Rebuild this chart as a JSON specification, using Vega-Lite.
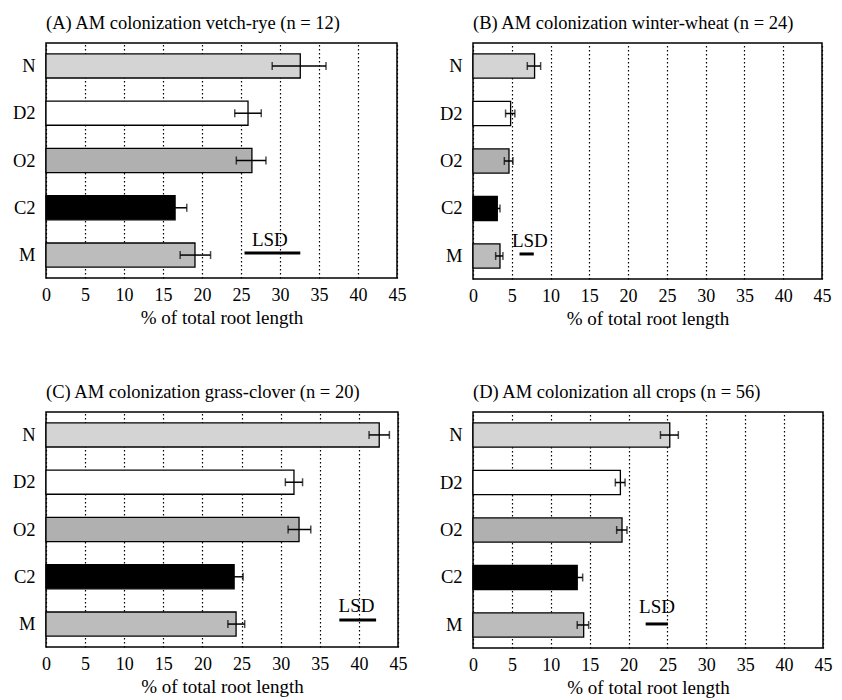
{
  "$schema": "https://vega.github.io/schema/vega-lite/v6.json",
  "padding": {"left": 11, "top": 12, "right": 5, "bottom": 5},
  "background": "white",
  "datasets": {
    "A": [
      {"treatment": "N", "value": 32.6, "lo": 29.0, "hi": 35.9},
      {"treatment": "D2", "value": 25.9, "lo": 24.2, "hi": 27.6},
      {"treatment": "O2", "value": 26.4, "lo": 24.4, "hi": 28.2},
      {"treatment": "C2", "value": 16.55, "lo": 15.05, "hi": 18.05},
      {"treatment": "M", "value": 19.1, "lo": 17.2, "hi": 21.1}
    ],
    "A_lsd": [{"treatment": "M", "lo": 25.45, "hi": 32.6, "mid": 28.7, "label": "LSD"}],
    "B": [
      {"treatment": "N", "value": 7.94, "lo": 7.0, "hi": 8.72},
      {"treatment": "D2", "value": 4.85, "lo": 4.2, "hi": 5.4},
      {"treatment": "O2", "value": 4.64, "lo": 4.04, "hi": 5.15},
      {"treatment": "C2", "value": 3.13, "lo": 2.8, "hi": 3.48},
      {"treatment": "M", "value": 3.48, "lo": 2.92, "hi": 3.86}
    ],
    "B_lsd": [{"treatment": "M", "lo": 6.0, "hi": 7.84, "mid": 7.33, "label": "LSD"}],
    "C": [
      {"treatment": "N", "value": 42.6, "lo": 41.3, "hi": 43.9},
      {"treatment": "D2", "value": 31.7, "lo": 30.6, "hi": 32.8},
      {"treatment": "O2", "value": 32.35, "lo": 30.95, "hi": 33.85},
      {"treatment": "C2", "value": 24.05, "lo": 22.9, "hi": 25.2},
      {"treatment": "M", "value": 24.3, "lo": 23.25, "hi": 25.4}
    ],
    "C_lsd": [{"treatment": "M", "lo": 37.5, "hi": 42.2, "mid": 39.7, "label": "LSD"}],
    "D": [
      {"treatment": "N", "value": 25.3, "lo": 24.1, "hi": 26.4},
      {"treatment": "D2", "value": 18.95, "lo": 18.3, "hi": 19.55},
      {"treatment": "O2", "value": 19.16, "lo": 18.47, "hi": 19.8},
      {"treatment": "C2", "value": 13.4, "lo": 12.7, "hi": 14.1},
      {"treatment": "M", "value": 14.23, "lo": 13.4, "hi": 14.87}
    ],
    "D_lsd": [{"treatment": "M", "lo": 22.2, "hi": 25.07, "mid": 23.66, "label": "LSD"}]
  },
  "columns": 2,
  "spacing": {"column": 75, "row": 133},
  "bounds": "flush",
  "concat": [
    {
      "title": {"text": "(A) AM colonization vetch-rye (n = 12)"},
      "width": 351, "height": 235,
      "layer": [
        {"data": {"name": "A"}, "mark": {"type": "bar", "stroke": "black", "strokeWidth": 1.3},
         "encoding": {
           "y": {"field": "treatment", "type": "nominal", "sort": ["N", "D2", "O2", "C2", "M"], "scale": {"domain": ["N", "D2", "O2", "C2", "M"], "paddingInner": 0.49, "paddingOuter": 0.23}, "axis": {"title": null}},
           "x": {"field": "value", "type": "quantitative", "scale": {"domain": [0, 45], "nice": false}, "axis": {"title": "% of total root length"}},
           "fill": {"field": "treatment", "type": "nominal", "scale": {"domain": ["N", "D2", "O2", "C2", "M"], "range": ["#d4d4d4", "#ffffff", "#b0b0b0", "#000000", "#bcbcbc"]}, "legend": null}}},
        {"data": {"name": "A"}, "mark": {"type": "rule", "stroke": "black", "strokeWidth": 1.5},
         "encoding": {"y": {"field": "treatment", "type": "nominal", "sort": ["N", "D2", "O2", "C2", "M"]}, "x": {"field": "lo", "type": "quantitative"}, "x2": {"field": "hi"}}},
        {"data": {"name": "A"}, "mark": {"type": "tick", "color": "black", "thickness": 1.5, "size": 8},
         "encoding": {"y": {"field": "treatment", "type": "nominal", "sort": ["N", "D2", "O2", "C2", "M"]}, "x": {"field": "lo", "type": "quantitative"}}},
        {"data": {"name": "A"}, "mark": {"type": "tick", "color": "black", "thickness": 1.5, "size": 8},
         "encoding": {"y": {"field": "treatment", "type": "nominal", "sort": ["N", "D2", "O2", "C2", "M"]}, "x": {"field": "hi", "type": "quantitative"}}},
        {"data": {"name": "A_lsd"}, "mark": {"type": "rule", "stroke": "black", "strokeWidth": 3, "yOffset": -2},
         "encoding": {"y": {"field": "treatment", "type": "nominal", "sort": ["N", "D2", "O2", "C2", "M"]}, "x": {"field": "lo", "type": "quantitative"}, "x2": {"field": "hi"}}},
        {"data": {"name": "A_lsd"}, "mark": {"type": "text", "fontSize": 19, "baseline": "alphabetic", "dy": -9, "color": "black"},
         "encoding": {"y": {"field": "treatment", "type": "nominal", "sort": ["N", "D2", "O2", "C2", "M"]}, "x": {"field": "mid", "type": "quantitative"}, "text": {"field": "label"}}}
      ]
    },
    {
      "title": {"text": "(B) AM colonization winter-wheat (n = 24)"},
      "width": 349, "height": 236,
      "layer": [
        {"data": {"name": "B"}, "mark": {"type": "bar", "stroke": "black", "strokeWidth": 1.3},
         "encoding": {
           "y": {"field": "treatment", "type": "nominal", "sort": ["N", "D2", "O2", "C2", "M"], "scale": {"domain": ["N", "D2", "O2", "C2", "M"], "paddingInner": 0.49, "paddingOuter": 0.23}, "axis": {"title": null}},
           "x": {"field": "value", "type": "quantitative", "scale": {"domain": [0, 45], "nice": false}, "axis": {"title": "% of total root length"}},
           "fill": {"field": "treatment", "type": "nominal", "scale": {"domain": ["N", "D2", "O2", "C2", "M"], "range": ["#d4d4d4", "#ffffff", "#b0b0b0", "#000000", "#bcbcbc"]}, "legend": null}}},
        {"data": {"name": "B"}, "mark": {"type": "rule", "stroke": "black", "strokeWidth": 1.5},
         "encoding": {"y": {"field": "treatment", "type": "nominal", "sort": ["N", "D2", "O2", "C2", "M"]}, "x": {"field": "lo", "type": "quantitative"}, "x2": {"field": "hi"}}},
        {"data": {"name": "B"}, "mark": {"type": "tick", "color": "black", "thickness": 1.5, "size": 8},
         "encoding": {"y": {"field": "treatment", "type": "nominal", "sort": ["N", "D2", "O2", "C2", "M"]}, "x": {"field": "lo", "type": "quantitative"}}},
        {"data": {"name": "B"}, "mark": {"type": "tick", "color": "black", "thickness": 1.5, "size": 8},
         "encoding": {"y": {"field": "treatment", "type": "nominal", "sort": ["N", "D2", "O2", "C2", "M"]}, "x": {"field": "hi", "type": "quantitative"}}},
        {"data": {"name": "B_lsd"}, "mark": {"type": "rule", "stroke": "black", "strokeWidth": 3, "yOffset": -2},
         "encoding": {"y": {"field": "treatment", "type": "nominal", "sort": ["N", "D2", "O2", "C2", "M"]}, "x": {"field": "lo", "type": "quantitative"}, "x2": {"field": "hi"}}},
        {"data": {"name": "B_lsd"}, "mark": {"type": "text", "fontSize": 19, "baseline": "alphabetic", "dy": -9, "color": "black"},
         "encoding": {"y": {"field": "treatment", "type": "nominal", "sort": ["N", "D2", "O2", "C2", "M"]}, "x": {"field": "mid", "type": "quantitative"}, "text": {"field": "label"}}}
      ]
    },
    {
      "title": {"text": "(C) AM colonization grass-clover (n = 20)"},
      "width": 352, "height": 235,
      "layer": [
        {"data": {"name": "C"}, "mark": {"type": "bar", "stroke": "black", "strokeWidth": 1.3},
         "encoding": {
           "y": {"field": "treatment", "type": "nominal", "sort": ["N", "D2", "O2", "C2", "M"], "scale": {"domain": ["N", "D2", "O2", "C2", "M"], "paddingInner": 0.49, "paddingOuter": 0.23}, "axis": {"title": null}},
           "x": {"field": "value", "type": "quantitative", "scale": {"domain": [0, 45], "nice": false}, "axis": {"title": "% of total root length"}},
           "fill": {"field": "treatment", "type": "nominal", "scale": {"domain": ["N", "D2", "O2", "C2", "M"], "range": ["#d4d4d4", "#ffffff", "#b0b0b0", "#000000", "#bcbcbc"]}, "legend": null}}},
        {"data": {"name": "C"}, "mark": {"type": "rule", "stroke": "black", "strokeWidth": 1.5},
         "encoding": {"y": {"field": "treatment", "type": "nominal", "sort": ["N", "D2", "O2", "C2", "M"]}, "x": {"field": "lo", "type": "quantitative"}, "x2": {"field": "hi"}}},
        {"data": {"name": "C"}, "mark": {"type": "tick", "color": "black", "thickness": 1.5, "size": 8},
         "encoding": {"y": {"field": "treatment", "type": "nominal", "sort": ["N", "D2", "O2", "C2", "M"]}, "x": {"field": "lo", "type": "quantitative"}}},
        {"data": {"name": "C"}, "mark": {"type": "tick", "color": "black", "thickness": 1.5, "size": 8},
         "encoding": {"y": {"field": "treatment", "type": "nominal", "sort": ["N", "D2", "O2", "C2", "M"]}, "x": {"field": "hi", "type": "quantitative"}}},
        {"data": {"name": "C_lsd"}, "mark": {"type": "rule", "stroke": "black", "strokeWidth": 3, "yOffset": -4},
         "encoding": {"y": {"field": "treatment", "type": "nominal", "sort": ["N", "D2", "O2", "C2", "M"]}, "x": {"field": "lo", "type": "quantitative"}, "x2": {"field": "hi"}}},
        {"data": {"name": "C_lsd"}, "mark": {"type": "text", "fontSize": 19, "baseline": "alphabetic", "dy": -12, "color": "black"},
         "encoding": {"y": {"field": "treatment", "type": "nominal", "sort": ["N", "D2", "O2", "C2", "M"]}, "x": {"field": "mid", "type": "quantitative"}, "text": {"field": "label"}}}
      ]
    },
    {
      "title": {"text": "(D) AM colonization all crops (n = 56)"},
      "width": 350, "height": 236,
      "layer": [
        {"data": {"name": "D"}, "mark": {"type": "bar", "stroke": "black", "strokeWidth": 1.3},
         "encoding": {
           "y": {"field": "treatment", "type": "nominal", "sort": ["N", "D2", "O2", "C2", "M"], "scale": {"domain": ["N", "D2", "O2", "C2", "M"], "paddingInner": 0.49, "paddingOuter": 0.23}, "axis": {"title": null}},
           "x": {"field": "value", "type": "quantitative", "scale": {"domain": [0, 45], "nice": false}, "axis": {"title": "% of total root length"}},
           "fill": {"field": "treatment", "type": "nominal", "scale": {"domain": ["N", "D2", "O2", "C2", "M"], "range": ["#d4d4d4", "#ffffff", "#b0b0b0", "#000000", "#bcbcbc"]}, "legend": null}}},
        {"data": {"name": "D"}, "mark": {"type": "rule", "stroke": "black", "strokeWidth": 1.5},
         "encoding": {"y": {"field": "treatment", "type": "nominal", "sort": ["N", "D2", "O2", "C2", "M"]}, "x": {"field": "lo", "type": "quantitative"}, "x2": {"field": "hi"}}},
        {"data": {"name": "D"}, "mark": {"type": "tick", "color": "black", "thickness": 1.5, "size": 8},
         "encoding": {"y": {"field": "treatment", "type": "nominal", "sort": ["N", "D2", "O2", "C2", "M"]}, "x": {"field": "lo", "type": "quantitative"}}},
        {"data": {"name": "D"}, "mark": {"type": "tick", "color": "black", "thickness": 1.5, "size": 8},
         "encoding": {"y": {"field": "treatment", "type": "nominal", "sort": ["N", "D2", "O2", "C2", "M"]}, "x": {"field": "hi", "type": "quantitative"}}},
        {"data": {"name": "D_lsd"}, "mark": {"type": "rule", "stroke": "black", "strokeWidth": 3, "yOffset": -1},
         "encoding": {"y": {"field": "treatment", "type": "nominal", "sort": ["N", "D2", "O2", "C2", "M"]}, "x": {"field": "lo", "type": "quantitative"}, "x2": {"field": "hi"}}},
        {"data": {"name": "D_lsd"}, "mark": {"type": "text", "fontSize": 19, "baseline": "alphabetic", "dy": -12, "color": "black"},
         "encoding": {"y": {"field": "treatment", "type": "nominal", "sort": ["N", "D2", "O2", "C2", "M"]}, "x": {"field": "mid", "type": "quantitative"}, "text": {"field": "label"}}}
      ]
    }
  ],
  "config": {
    "font": "Liberation Serif, Times New Roman, DejaVu Serif, serif",
    "view": {"stroke": "black", "strokeWidth": 1.5},
    "text": {"font": "Liberation Serif, Times New Roman, DejaVu Serif, serif"},
    "axis": {"labelFont": "Liberation Serif, Times New Roman, DejaVu Serif, serif", "labelFontSize": 18, "labelColor": "black", "titleFont": "Liberation Serif, Times New Roman, DejaVu Serif, serif", "titleFontSize": 19, "titleFontWeight": "normal", "titleColor": "black", "domain": false, "ticks": false},
    "axisX": {"grid": true, "gridColor": "black", "gridDash": [1.5, 2.5], "gridWidth": 1.2, "gridOpacity": 1, "labelPadding": 8, "titlePadding": 4, "values": [0, 5, 10, 15, 20, 25, 30, 35, 40, 45], "labelFlush": false},
    "axisY": {"grid": false, "labelPadding": 11, "labelFontSize": 18.5},
    "title": {"font": "Liberation Serif, Times New Roman, DejaVu Serif, serif", "fontSize": 18.5, "fontWeight": "normal", "anchor": "start", "frame": "group", "color": "black", "offset": 11}
  }
}
